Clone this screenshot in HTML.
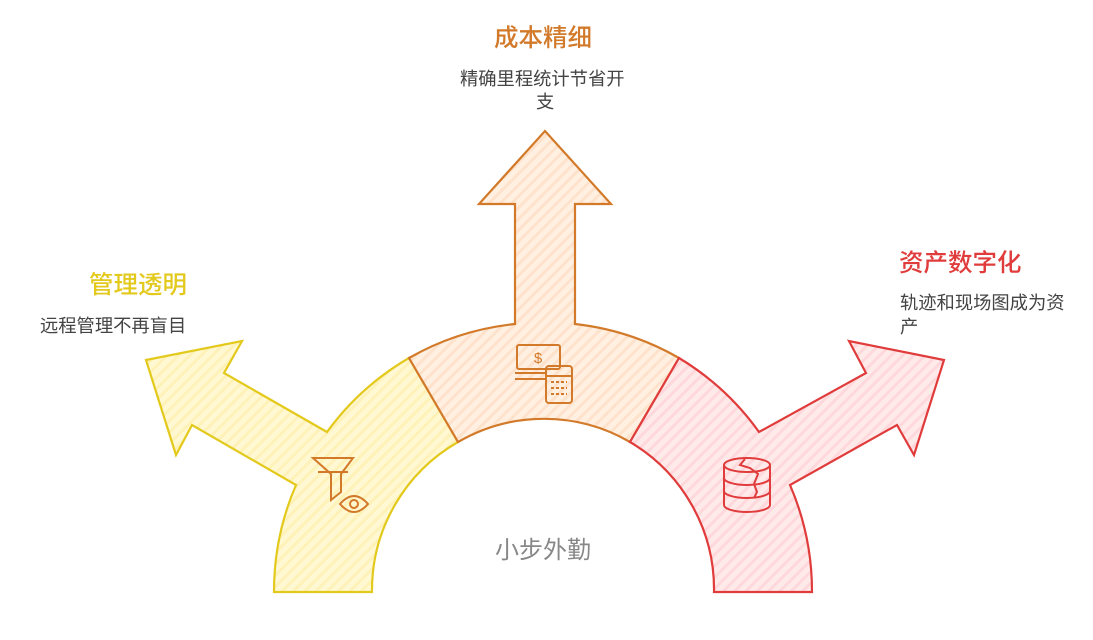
<!DOCTYPE html>
<html><head><meta charset="utf-8"><style>
body{margin:0;width:1093px;height:640px;background:#fff;overflow:hidden;position:relative;font-family:"Liberation Sans","Noto Sans CJK SC",sans-serif}
.t{position:absolute;white-space:nowrap;line-height:1.2}
.h{font-size:24.5px;font-weight:500}
.b{font-size:18.3px;color:#444}
</style></head><body>
<svg width="1093" height="640" style="position:absolute;left:0;top:0">
<defs>
<pattern id="py" width="8" height="8" patternUnits="userSpaceOnUse" patternTransform="rotate(45)"><rect width="8" height="8" fill="#fff8d2"/><rect width="3" height="8" fill="#fff2b8"/></pattern>
<pattern id="po" width="8" height="8" patternUnits="userSpaceOnUse" patternTransform="rotate(45)"><rect width="8" height="8" fill="#fff0e2"/><rect width="3" height="8" fill="#ffe2cc"/></pattern>
<pattern id="pr" width="8" height="8" patternUnits="userSpaceOnUse" patternTransform="rotate(45)"><rect width="8" height="8" fill="#ffeaea"/><rect width="3" height="8" fill="#ffd8dc"/></pattern>
</defs>
<g stroke-width="2.2" stroke-linejoin="miter">
<path d="M274,592 A269,269 0 0 1 296,485 L192,425 L176,455 L146,360 L242,341 L224,373 L327,432 A269,269 0 0 1 409,358 L458,442 A171,171 0 0 0 372,592 Z" fill="url(#py)" stroke="#e3c91c"/>
<path d="M409,358 A269,269 0 0 1 515,324 L515,204 L479,204 L545,131 L611,204 L575,204 L575,324 A269,269 0 0 1 679,358 L630,442 A171,171 0 0 0 458,442 Z" fill="url(#po)" stroke="#d27a2a"/>
<path d="M812,592 A269,269 0 0 0 790,485 L897,425 L914,455 L944,360 L849,341 L866,373 L759,432 A269,269 0 0 0 679,358 L630,442 A171,171 0 0 1 714,592 Z" fill="url(#pr)" stroke="#e03c3c"/>
</g>
<g fill="none" stroke="#d27a2a" stroke-width="2">
<path d="M313,458 h40 l-12,16 v18 l-10,8 v-26 z"/><path d="M318,472 h30"/>
<path d="M340,504 q14,-16 28,0 q-14,16 -28,0 z"/><circle cx="354" cy="504" r="4"/>
<rect x="517" y="345" width="43" height="24" rx="2"/><text x="538" y="363" font-size="15" fill="#d27a2a" stroke="none" text-anchor="middle" font-family="Liberation Sans">$</text>
<path d="M515,373 h30 M515,379 h30"/>
<rect x="546" y="366" width="26" height="37" rx="3"/><path d="M546,376 h26"/>
<path d="M551,382 h16 M551,388 h16 M551,394 h16" stroke-dasharray="3 2"/>
</g>
<g fill="none" stroke="#e03c3c" stroke-width="2">
<ellipse cx="747" cy="465" rx="23" ry="7"/>
<path d="M724,465 v40 a23,7 0 0 0 46,0 v-40 M724,478 a23,7 0 0 0 46,0 M724,491 a23,7 0 0 0 46,0"/>
<path d="M745,459 l-5,6 l10,3 l8,6 l-4,10 l3,8 l-3,6"/>
</g>
</svg>
<div class="t h" style="left:494px;top:24px;color:#d27a2a">成本精细</div>
<div class="t b" style="left:460px;top:68px">精确里程统计节省开</div>
<div class="t b" style="left:536px;top:91px">支</div>
<div class="t h" style="left:89px;top:271px;color:#e3c91c">管理透明</div>
<div class="t b" style="left:40px;top:315px">远程管理不再盲目</div>
<div class="t h" style="left:899px;top:249px;color:#e03c3c">资产数字化</div>
<div class="t b" style="left:900px;top:292px">轨迹和现场图成为资</div>
<div class="t b" style="left:900px;top:316px">产</div>
<div class="t" style="left:495px;top:537px;font-size:24px;color:#888">小步外勤</div>
</body></html>
